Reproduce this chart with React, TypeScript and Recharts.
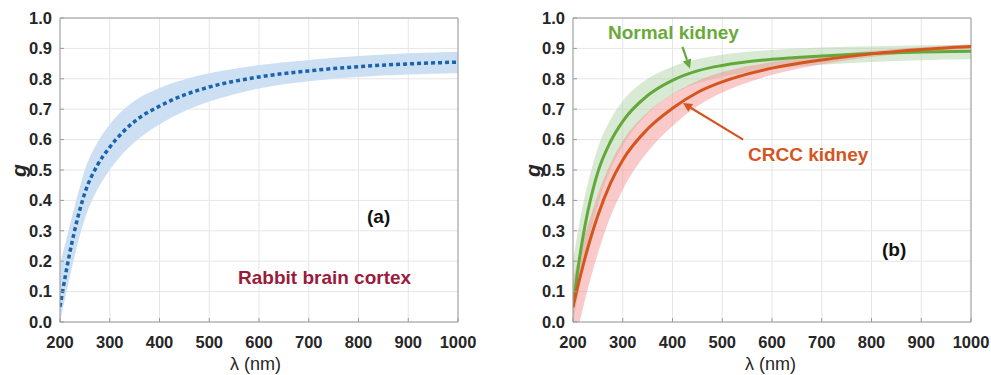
import React from "react";
import {
  Area,
  CartesianGrid,
  ComposedChart,
  Line,
  ReferenceLine,
  XAxis,
  YAxis,
} from "recharts";

// wavelength grid (nm)
const lambda = [200, 210, 220, 230, 240, 250, 275, 300, 350, 400, 450, 500, 600, 700, 800, 900, 1000];

// (a) rabbit brain cortex
const gRabbit = [0.05, 0.145, 0.23, 0.305, 0.37, 0.425, 0.515, 0.575, 0.66, 0.71, 0.747, 0.773, 0.806, 0.826, 0.84, 0.849, 0.855];
const gRabbitLo = [0.0, 0.075, 0.15, 0.22, 0.285, 0.34, 0.435, 0.5, 0.592, 0.65, 0.693, 0.725, 0.768, 0.792, 0.806, 0.814, 0.818];
const gRabbitHi = [0.19, 0.255, 0.32, 0.385, 0.445, 0.5, 0.59, 0.65, 0.728, 0.77, 0.798, 0.818, 0.845, 0.862, 0.875, 0.884, 0.889];

// (b) normal kidney
const gNormal = [0.05, 0.175, 0.28, 0.365, 0.435, 0.493, 0.592, 0.66, 0.745, 0.795, 0.826, 0.844, 0.864, 0.875, 0.883, 0.888, 0.891];
const gNormalLo = [0.0, 0.085, 0.175, 0.255, 0.325, 0.385, 0.5, 0.58, 0.685, 0.748, 0.785, 0.806, 0.832, 0.846, 0.855, 0.861, 0.864];
const gNormalHi = [0.2, 0.3, 0.385, 0.457, 0.52, 0.573, 0.665, 0.727, 0.8, 0.84, 0.864, 0.879, 0.895, 0.903, 0.907, 0.91, 0.911];

// (b) CRCC kidney
const gCrcc = [0.048, 0.12, 0.185, 0.245, 0.3, 0.35, 0.455, 0.533, 0.635, 0.703, 0.755, 0.79, 0.835, 0.862, 0.882, 0.896, 0.906];
const gCrccLo = [-0.1, -0.025, 0.045, 0.11, 0.17, 0.225, 0.345, 0.435, 0.56, 0.645, 0.71, 0.755, 0.813, 0.848, 0.872, 0.888, 0.898];
const gCrccHi = [0.14, 0.205, 0.265, 0.32, 0.37, 0.42, 0.52, 0.595, 0.69, 0.75, 0.793, 0.822, 0.855, 0.876, 0.892, 0.904, 0.914];

const xTicks = [200, 300, 400, 500, 600, 700, 800, 900, 1000];
const yTicks = [0, 0.1, 0.2, 0.3, 0.4, 0.5, 0.6, 0.7, 0.8, 0.9, 1.0];

const rabbitData = lambda.map((l, i) => ({
  l,
  g: gRabbit[i],
  band: [gRabbitLo[i], gRabbitHi[i]],
}));

const kidneyData = lambda.map((l, i) => ({
  l,
  normal: gNormal[i],
  normalBand: [gNormalLo[i], gNormalHi[i]],
  crcc: gCrcc[i],
  crccBand: [gCrccLo[i], gCrccHi[i]],
}));

const FONT = "'Liberation Sans', Arial, sans-serif";
const AXIS = "#9a9a9a";
const TICK = { fill: "#262626", fontSize: 16.5, fontWeight: 700, fontFamily: FONT };

const Arrow = (color: string) => (props: any) => {
  const { x1, y1, x2, y2 } = props;
  if ([x1, y1, x2, y2].some((v) => v == null || isNaN(v))) return <g />;
  const a = Math.atan2(y2 - y1, x2 - x1);
  const len = 9;
  const w = 4.5;
  const bx = x2 - len * Math.cos(a);
  const by = y2 - len * Math.sin(a);
  const px = -Math.sin(a) * w;
  const py = Math.cos(a) * w;
  return (
    <g>
      <line x1={x1} y1={y1} x2={bx} y2={by} stroke={color} strokeWidth={2.2} />
      <polygon
        points={`${x2},${y2} ${bx + px},${by + py} ${bx - px},${by - py}`}
        fill={color}
      />
    </g>
  );
};

const chartMargin = { top: 18, right: 33, bottom: 23, left: 0 };

const txt = (extra: React.CSSProperties): React.CSSProperties => ({
  position: "absolute",
  fontFamily: FONT,
  whiteSpace: "nowrap",
  lineHeight: 1,
  ...extra,
});

// shared axes + box for both panels
const axes = () => [
  <CartesianGrid key="grid" stroke="#e6e6e6" />,
  <XAxis
    key="x"
    dataKey="l"
    type="number"
    domain={[200, 1000]}
    ticks={xTicks}
    allowDataOverflow
    height={30}
    tick={TICK}
    tickSize={-4}
    tickMargin={18}
    tickLine={{ stroke: AXIS }}
    axisLine={{ stroke: AXIS }}
  />,
  <YAxis
    key="y"
    type="number"
    domain={[0, 1]}
    ticks={yTicks}
    allowDataOverflow
    width={60}
    tick={TICK}
    tickFormatter={(v: number) => v.toFixed(1)}
    tickSize={-4}
    tickMargin={12}
    tickLine={{ stroke: AXIS }}
    axisLine={{ stroke: AXIS }}
  />,
  <ReferenceLine key="top" y={1} stroke={AXIS} />,
  <ReferenceLine key="right" x={1000} stroke={AXIS} />,
];

export default function App() {
  return (
    <div style={{ position: "absolute", left: 0, top: 0, width: 991, height: 375, background: "#fff" }}>
      <div style={{ position: "absolute", left: 0, top: 0 }}>
        <ComposedChart width={491} height={375} data={rabbitData} margin={chartMargin}>
          {axes()}
          <Area
            type="monotone"
            dataKey="band"
            stroke="none"
            fill="#cde0f3"
            fillOpacity={1}
            isAnimationActive={false}
          />
          <Line
            type="monotone"
            dataKey="g"
            stroke="#1a64ad"
            strokeWidth={3.5}
            strokeDasharray="4 3"
            dot={false}
            isAnimationActive={false}
          />
        </ComposedChart>
      </div>

      <div style={{ position: "absolute", left: 513, top: 0 }}>
        <ComposedChart width={491} height={375} data={kidneyData} margin={chartMargin}>
          {axes()}
          <Area
            type="monotone"
            dataKey="normalBand"
            stroke="none"
            fill="#a8d0a0"
            fillOpacity={0.45}
            isAnimationActive={false}
          />
          <Area
            type="monotone"
            dataKey="crccBand"
            stroke="none"
            fill="#f48a8a"
            fillOpacity={0.45}
            isAnimationActive={false}
          />
          <Line
            type="monotone"
            dataKey="normal"
            stroke="#62a83a"
            strokeWidth={3}
            dot={false}
            isAnimationActive={false}
          />
          <Line
            type="monotone"
            dataKey="crcc"
            stroke="#d4561e"
            strokeWidth={3}
            dot={false}
            isAnimationActive={false}
          />
          <ReferenceLine
            segment={[{ x: 420, y: 0.905 }, { x: 435, y: 0.834 }]}
            shape={Arrow("#62a83a")}
          />
          <ReferenceLine
            segment={[{ x: 542, y: 0.6 }, { x: 421, y: 0.72 }]}
            shape={Arrow("#d4561e")}
          />
        </ComposedChart>
      </div>

      {/* axis titles */}
      <div style={txt({ left: 12, top: 160, fontSize: 21, fontWeight: 700, fontStyle: "italic", transform: "rotate(-90deg)", color: "#262626" })}>g</div>
      <div style={txt({ left: 526, top: 160, fontSize: 21, fontWeight: 700, fontStyle: "italic", transform: "rotate(-90deg)", color: "#262626" })}>g</div>
      <div style={txt({ left: 230, top: 355, fontSize: 18, color: "#262626" })}>λ (nm)</div>
      <div style={txt({ left: 745, top: 355, fontSize: 18, color: "#262626" })}>λ (nm)</div>

      {/* annotations */}
      <div style={txt({ left: 367, top: 207, fontSize: 19, fontWeight: 700, color: "#111" })}>(a)</div>
      <div style={txt({ left: 238, top: 268, fontSize: 19, fontWeight: 700, color: "#9b1b3c" })}>Rabbit brain cortex</div>
      <div style={txt({ left: 608, top: 23, fontSize: 19, fontWeight: 700, color: "#6aaa3a" })}>Normal kidney</div>
      <div style={txt({ left: 748, top: 145, fontSize: 19, fontWeight: 700, color: "#d4561e" })}>CRCC kidney</div>
      <div style={txt({ left: 882, top: 240, fontSize: 19, fontWeight: 700, color: "#111" })}>(b)</div>
    </div>
  );
}
